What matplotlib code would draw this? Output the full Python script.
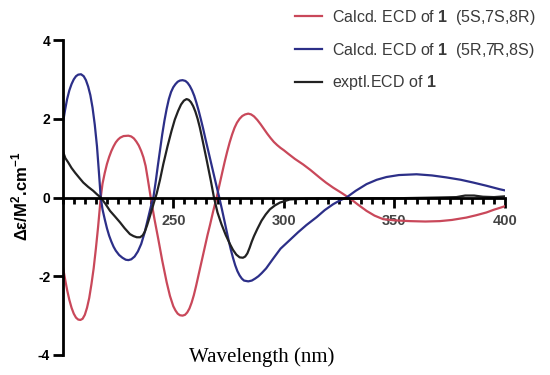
import matplotlib.pyplot as plt
import numpy as np
from matplotlib.ticker import MultipleLocator, FixedLocator

plt.rcParams["mathtext.fontset"] = "custom"
plt.rcParams["mathtext.rm"] = "Liberation Sans"
plt.rcParams["mathtext.bf"] = "Liberation Sans:bold"
plt.rcParams["axes.unicode_minus"] = False

# calcd. ECD (5S,7S,8R)
red_nm = [200, 201, 202, 203, 204, 205, 206, 207, 208, 209, 210, 211, 212, 213, 214, 215, 216,
          217.2, 218, 219, 220, 221, 222, 223, 224, 225, 226, 227.5, 229.7, 231, 232.2, 233.3,
          234.4, 235.5, 236.5, 237.5, 238.5, 239.8, 241.5, 243.2, 245, 247, 248.5, 250, 251, 252,
          253, 254.2, 255.3, 256.3, 257.3, 258.3, 259.3, 260.3, 261.3, 262.3, 263.3, 264.5, 265.5,
          266.6, 268, 269.6, 271, 272.2, 273.3, 274.4, 275.5, 276.6, 277.7, 278.8, 280, 281.2,
          282.5, 283.9, 285.2, 286.5, 288, 289.5, 291, 292.5, 294, 295.5, 297, 298.5, 300, 302,
          305, 308.7, 312, 316.3, 319, 322.3, 326, 329.8, 333.5, 337.4, 341, 344.9, 350, 357, 364,
          370.5, 376, 382.5, 387, 391.6, 395, 398.4, 400]
red_de = [-1.73, -2.05, -2.35, -2.6, -2.8, -2.95, -3.05, -3.1, -3.11, -3.08, -2.98, -2.8, -2.55,
          -2.2, -1.8, -1.3, -0.75, 0.0, 0.35, 0.62, 0.85, 1.03, 1.18, 1.3, 1.4, 1.47, 1.52, 1.56,
          1.57, 1.55, 1.5, 1.42, 1.32, 1.18, 1.02, 0.8, 0.46, 0.0, -0.55, -1.05, -1.6, -2.15, -2.5,
          -2.76, -2.87, -2.95, -2.99, -3.0, -2.98, -2.92, -2.82, -2.67, -2.48, -2.25, -2.0, -1.75,
          -1.5, -1.2, -0.95, -0.7, -0.36, 0.0, 0.35, 0.65, 0.92, 1.17, 1.4, 1.6, 1.77, 1.9, 2.0,
          2.07, 2.11, 2.13, 2.11, 2.06, 1.97, 1.86, 1.74, 1.62, 1.51, 1.41, 1.33, 1.26, 1.2, 1.11,
          0.98, 0.84, 0.7, 0.5, 0.38, 0.25, 0.12, -0.02, -0.18, -0.34, -0.46, -0.55, -0.58, -0.60,
          -0.61, -0.60, -0.57, -0.51, -0.45, -0.38, -0.31, -0.25, -0.22]

# calcd. ECD (5R,7R,8S)
blue_nm = [200, 201, 202, 203, 204, 205, 206, 207, 208.3, 209.5, 210.5, 211.5, 212.5, 213.5, 214.5,
           215.5, 216.3, 217.2, 218, 219, 220, 221, 222, 223, 224, 225.5, 227, 228.5, 229.7, 231,
           232.5, 234, 235.5, 237, 238.5, 240, 241, 242, 243, 244, 245, 246, 247, 248, 249, 250, 251,
           252, 253, 254.2, 255.5, 256.5, 257.5, 258.5, 259.5, 260.5, 261.5, 262.5, 263.5, 264.5,
           265.5, 266.5, 267.5, 268.5, 269.5, 270.8, 272, 273, 274, 275, 276, 277, 278, 279, 280,
           281, 282, 283.9, 285.5, 287, 288.5, 290, 292, 295.2, 298.5, 302.7, 306.5, 310.2, 314.8,
           318.5, 322.3, 325.5, 328.3, 332.5, 337.4, 342, 346.4, 352, 360, 367, 373.5, 380, 385.6,
           391.5, 397.6, 400]
blue_de = [1.86, 2.2, 2.5, 2.72, 2.88, 3.0, 3.08, 3.12, 3.13, 3.08, 2.98, 2.82, 2.6, 2.28, 1.85,
           1.3, 0.7, 0.0, -0.3, -0.55, -0.78, -0.97, -1.12, -1.25, -1.35, -1.46, -1.53, -1.58, -1.59,
           -1.57, -1.5, -1.37, -1.18, -0.9, -0.55, -0.2, 0.0, 0.38, 0.8, 1.2, 1.6, 1.95, 2.25, 2.5,
           2.68, 2.8, 2.88, 2.94, 2.97, 2.98, 2.96, 2.91, 2.83, 2.72, 2.58, 2.4, 2.2, 1.98, 1.75,
           1.5, 1.26, 1.02, 0.78, 0.54, 0.3, 0.0, -0.3, -0.56, -0.82, -1.08, -1.32, -1.53, -1.72,
           -1.87, -1.98, -2.06, -2.11, -2.13, -2.11, -2.06, -2.0, -1.92, -1.8, -1.55, -1.3, -1.08,
           -0.88, -0.7, -0.5, -0.32, -0.17, -0.07, 0.0, 0.17, 0.34, 0.45, 0.52, 0.57, 0.59, 0.56,
           0.51, 0.45, 0.38, 0.3, 0.21, 0.18]

# exptl. ECD
blk_nm = [200, 201.2, 202.5, 204, 205.6, 207.5, 209.3, 211.5, 213.8, 215.5, 217.2, 219.3, 221.4,
          223.6, 225.9, 228, 230.4, 232, 233.5, 235, 236.2, 237.2, 238.2, 239.2, 240.2, 241.3, 242.5,
          244, 245.5, 247.4, 249.2, 250.7, 252.2, 253.5, 254.8, 256, 257, 258, 259, 260, 261, 262,
          263, 264, 265, 266, 267, 268.4, 270, 271.8, 273.7, 275.6, 277, 278.5, 280, 281.5, 282.5,
          283.5, 284.5, 285.5, 286.5, 288, 289.9, 291.8, 293.7, 296, 298.2, 302.7, 310, 320, 330,
          340, 350, 360, 370, 378, 382, 386, 390, 395, 400]
blk_de = [1.19, 1.0, 0.89, 0.75, 0.63, 0.5, 0.38, 0.27, 0.17, 0.08, 0.0, -0.16, -0.34, -0.48,
          -0.63, -0.78, -0.93, -0.98, -1.01, -1.01, -0.96, -0.86, -0.7, -0.52, -0.33, -0.12, 0.1,
          0.45, 0.85, 1.3, 1.69, 1.98, 2.2, 2.36, 2.46, 2.5, 2.48, 2.42, 2.32, 2.18, 2.0, 1.78,
          1.52, 1.25, 0.98, 0.7, 0.42, 0.0, -0.38, -0.68, -0.95, -1.18, -1.33, -1.45, -1.52, -1.53,
          -1.5, -1.42, -1.28, -1.12, -0.98, -0.8, -0.59, -0.43, -0.3, -0.2, -0.13, -0.05, -0.03,
          -0.02, -0.03, -0.02, -0.02, -0.01, 0.0, 0.01, 0.05, 0.05, 0.02, 0.01, 0.03]

labels = [r"Calcd. ECD of $\mathbf{1}$  (5S,7S,8R)",
          r"Calcd. ECD of $\mathbf{1}$  (5R,7R,8S)",
          r"exptl.ECD of $\mathbf{1}$"]
colors = ["#c9485a", "#2c2f88", "#222222"]

fig = plt.figure(figsize=(5.5, 3.75), dpi=100)
ax = fig.add_axes([62.7/550, 1-355/375, (505-62.7)/550, (355-40)/375])

ax.plot(red_nm, red_de, color=colors[0], lw=1.6, label=labels[0])
ax.plot(blue_nm, blue_de, color=colors[1], lw=1.6, label=labels[1])
ax.plot(blk_nm, blk_de, color=colors[2], lw=1.6, label=labels[2])

ax.set_xlim(200, 400)
ax.set_ylim(-4, 4)
ax.spines["top"].set_visible(False)
ax.spines["right"].set_visible(False)
ax.spines["bottom"].set_position(("data", 0))
ax.spines["bottom"].set_linewidth(2)
ax.spines["left"].set_linewidth(2)

ax.xaxis.set_major_locator(FixedLocator([250, 300, 350, 400]))
ax.xaxis.set_minor_locator(MultipleLocator(5))
ax.yaxis.set_major_locator(FixedLocator([-4, -2, 0, 2, 4]))
ax.tick_params(axis="x", which="major", length=7, width=2, pad=5, labelsize=10.5, labelcolor="#444444")
ax.tick_params(axis="x", which="minor", length=4, width=2)
ax.tick_params(axis="y", length=7, width=2, pad=2, labelsize=10)
for t in ax.get_xticklabels() + ax.get_yticklabels():
    t.set_fontweight("bold")
    t.set_family("Liberation Sans")

fig.text(20/550, 1-196/375, r"Δε/M$^{\mathbf{2}}$.cm$^{\mathbf{-1}}$", rotation=90,
         ha="center", va="center", fontsize=12, fontweight="bold",
         family=["Liberation Sans", "DejaVu Sans"])
fig.text(262/550, 1-357/375, "Wavelength (nm)", ha="center", va="center",
         fontsize=15, family="Liberation Serif")

leg = ax.legend(loc="upper left", bbox_to_anchor=(295/550, 1-8/375), bbox_transform=fig.transFigure,
                frameon=False, borderpad=0, borderaxespad=0, handlelength=1.7, handletextpad=0.6,
                labelspacing=0.85, prop={"family": "Liberation Sans", "size": 11.5})
for t in leg.get_texts():
    t.set_color("#3a3a3a")

fig.savefig("out.png", dpi=100)
